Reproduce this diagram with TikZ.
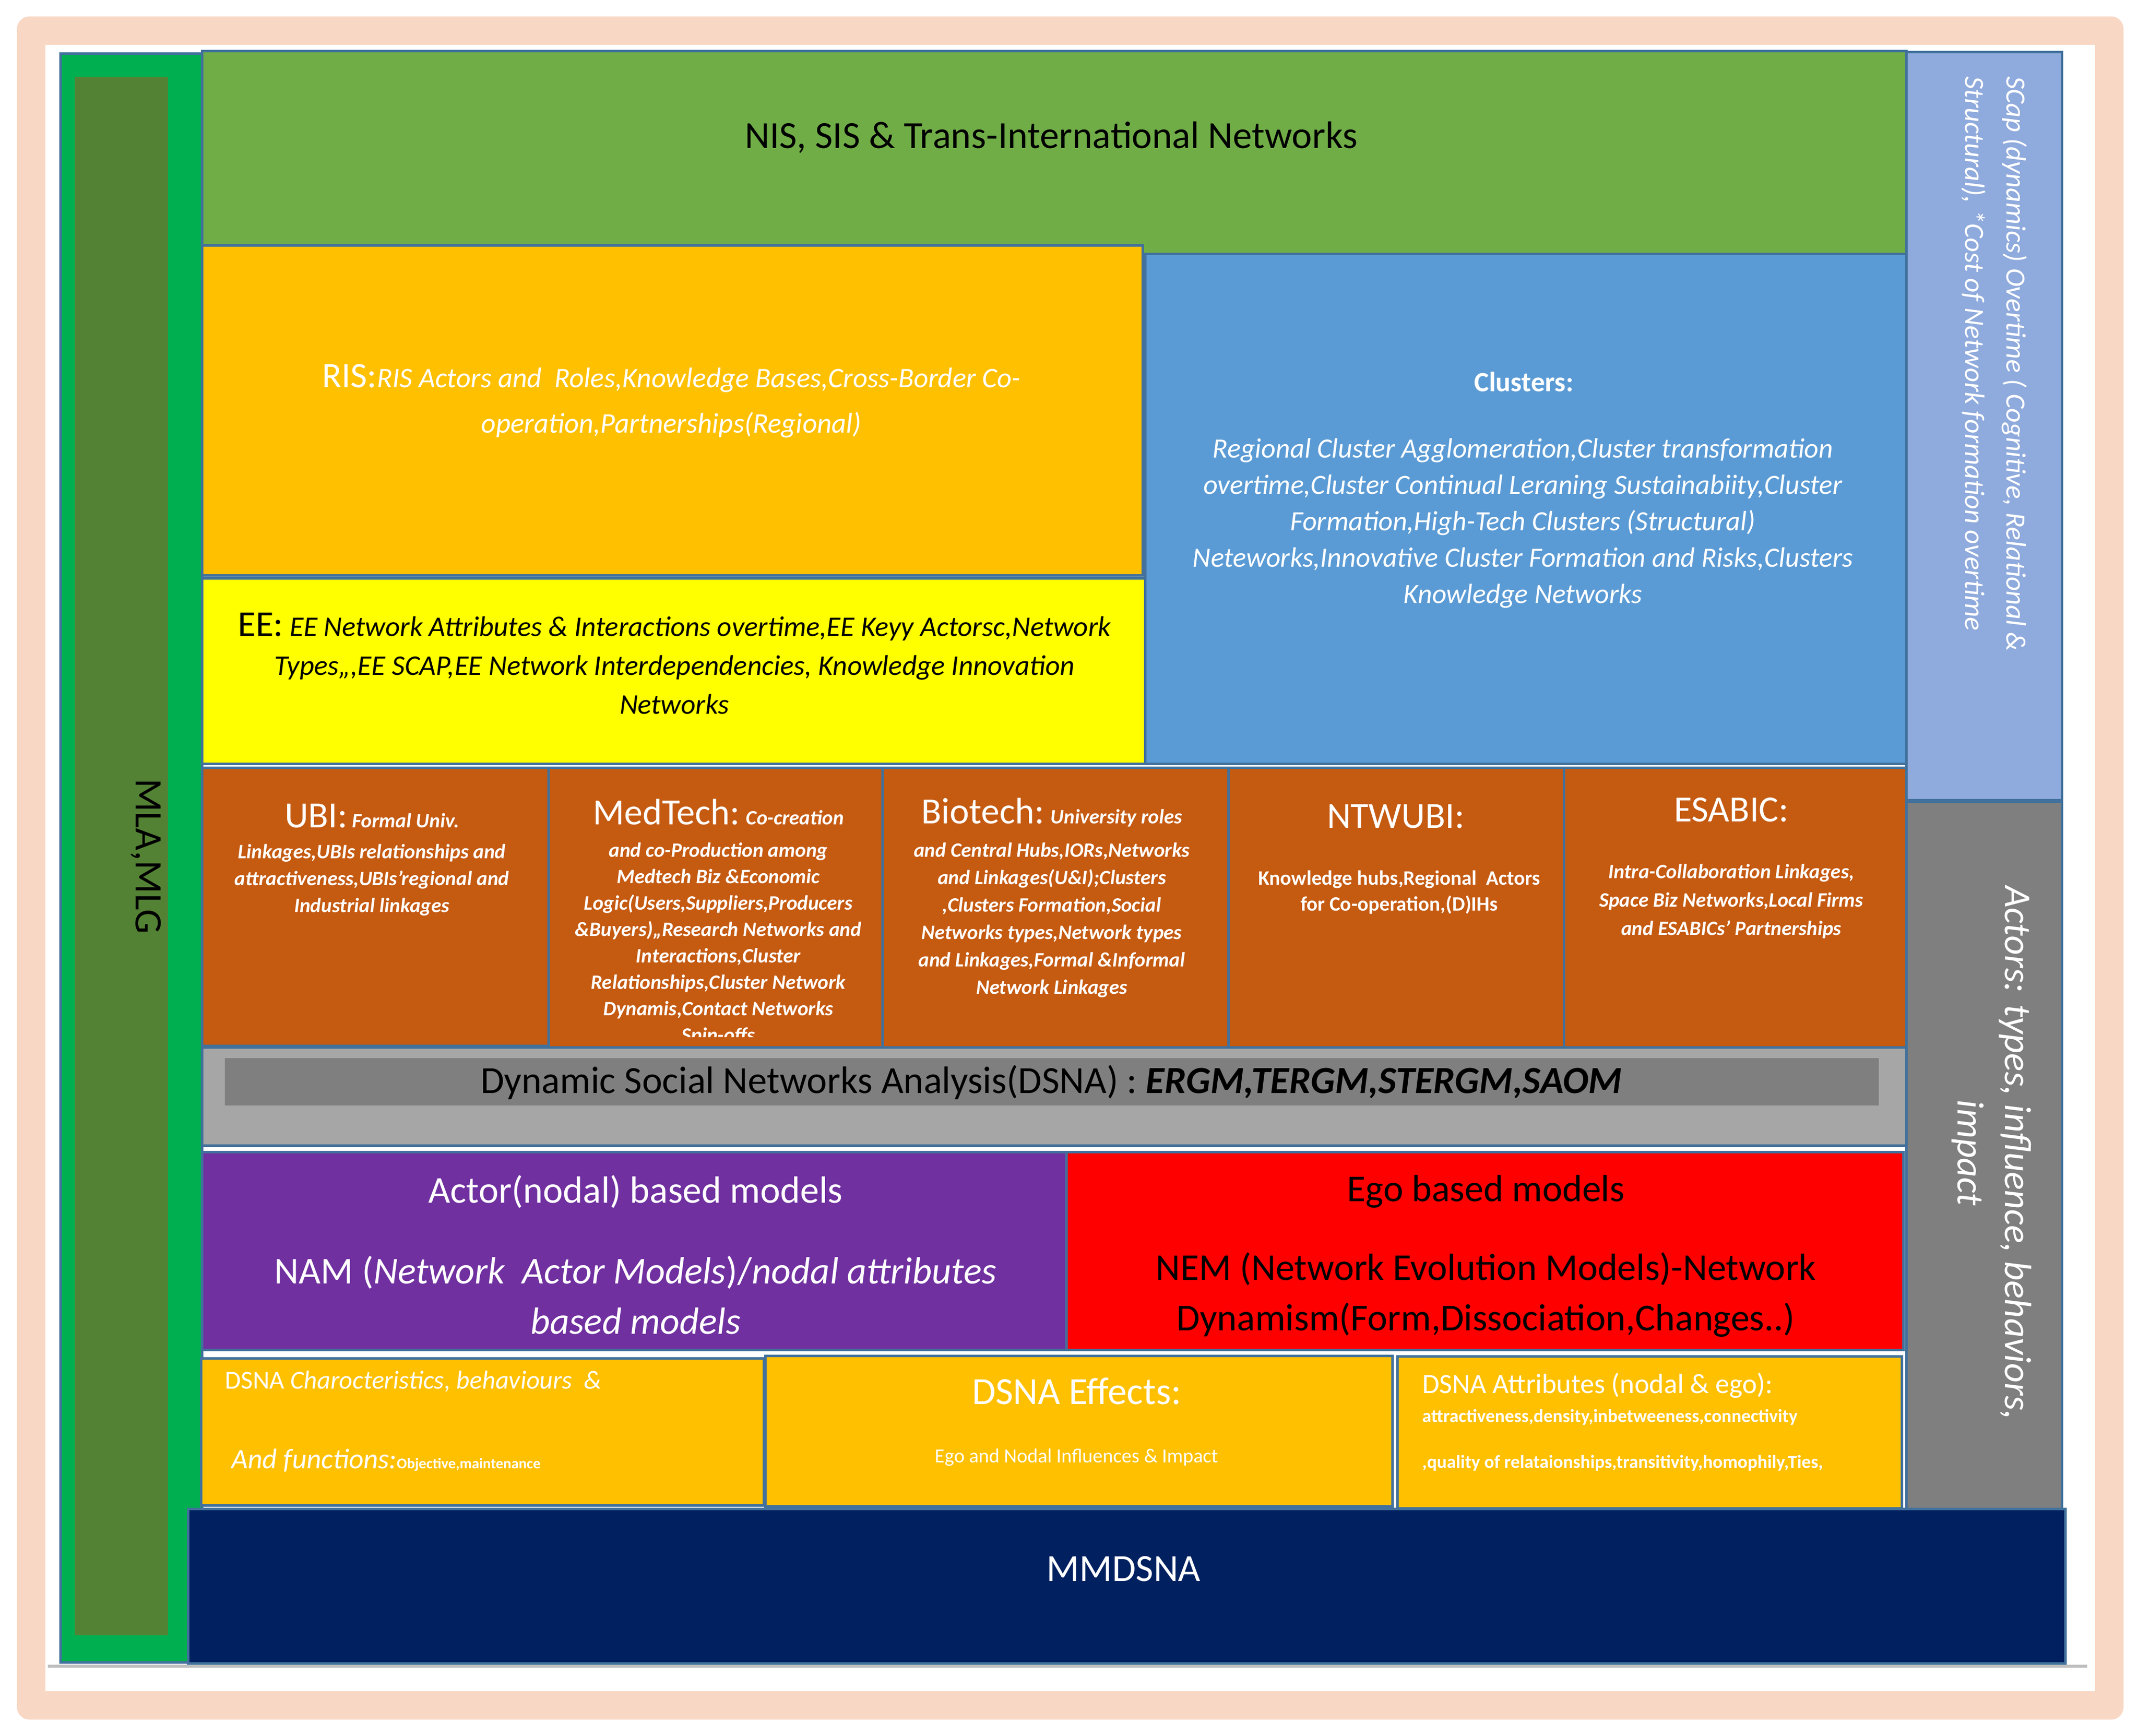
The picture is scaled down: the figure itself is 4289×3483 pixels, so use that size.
\documentclass[tikz,border=0pt]{standalone}
\usepackage{fontspec}
\setmainfont{Carlito}
\newcommand\FS[2]{\fontsize{#1}{#2}\selectfont}
\definecolor{peach}{HTML}{F8D8C4}
\definecolor{bord}{HTML}{41719C}
\definecolor{mgreen}{HTML}{00B050}
\definecolor{dgreen}{HTML}{548235}
\definecolor{nisg}{HTML}{70AD47}
\definecolor{gold}{HTML}{FFC000}
\definecolor{clblue}{HTML}{5B9BD5}
\definecolor{eeyel}{HTML}{FFFF00}
\definecolor{rust}{HTML}{C55A11}
\definecolor{lgray}{HTML}{A6A6A6}
\definecolor{mgray}{HTML}{7F7F7F}
\definecolor{purp}{HTML}{7030A0}
\definecolor{navy}{HTML}{002060}
\definecolor{scapb}{HTML}{8FAADC}
\definecolor{lineg}{HTML}{BFBFBF}
\begin{document}
\begin{tikzpicture}[x=1pt,y=-1pt,
  box/.style={draw=bord, line width=5pt},
  txt/.style={inner sep=0pt, align=center},
  wtxt/.style={txt, text=white},
  btxt/.style={txt, text=black}]
\useasboundingbox (0,0) rectangle (4289,3483);
% frame
\fill[peach, rounded corners=25pt] (34,33) rectangle (4260,3450);
\fill[white] (91,90) rectangle (4203,3393);
\fill[lineg] (96,3340) rectangle (4187,3346);
% left column
\path[box, fill=mgreen] (121,107) rectangle (405,3335);
\fill[dgreen] (150,154) rectangle (337,3281);
% top
\path[box, fill=nisg] (405,102) rectangle (3824,509);
\path[box, fill=scapb] (3824,104) rectangle (4136,1605);
\path[box, fill=clblue] (2297,509) rectangle (3824,1532);
\path[box, fill=gold] (405,492) rectangle (2292,1154);
\path[box, fill=eeyel] (405,1160) rectangle (2297,1532);
% orange row
\path[box, fill=rust] (405,1540) rectangle (1100,2098);
\path[box, fill=rust] (1100,1540) rectangle (1770,2106);
\path[box, fill=rust] (1770,1540) rectangle (2464,2101);
\path[box, fill=rust] (2464,1540) rectangle (3137,2101);
\path[box, fill=rust] (3137,1540) rectangle (3824,2110);
% texts of orange row (before DSNA row)
\node[wtxt, font=\FS{41}{54}\bfseries\itshape] (ubi) at (746,1725)
  {{\FS{74}{54}\mdseries\upshape UBI:} Formal Univ.\\[8pt]
   Linkages,UBIs relationships and\\attractiveness,UBIs'regional and\\Industrial linkages};
\begin{scope}
\clip (1100,1540) rectangle (1770,2080);
\node[wtxt, font=\FS{41}{53}\bfseries\itshape] (med) at (1441,1850)
  {{\FS{74}{53}\mdseries\upshape MedTech:} Co-creation\\[12pt]
   and co-Production among\\Medtech Biz \&Economic\\Logic(Users,Suppliers,Producers\\
   \&Buyers),,Research Networks and\\Interactions,Cluster\\Relationships,Cluster Network\\
   Dynamis,Contact Networks\\Spin-offs};
\end{scope}
\node[wtxt, font=\FS{41}{55}\bfseries\itshape] (bio) at (2110,1801)
  {{\FS{74}{55}\mdseries\upshape Biotech:} University roles\\[12pt]
   and Central Hubs,IORs,Networks\\and Linkages(U\&I);Clusters\\,Clusters Formation,Social\\
   Networks types,Network types\\and Linkages,Formal \&Informal\\Network Linkages};
\node[wtxt, font=\FS{74}{80}] (ntt) at (2800,1638) {NTWUBI:};
\node[wtxt, font=\FS{41}{52}\bfseries] (ntb) at (2807,1790)
  {Knowledge hubs,Regional\ \ Actors\\for Co-operation,(D)IHs};
\node[wtxt, font=\FS{74}{80}] (est) at (3473,1625) {ESABIC:};
\node[wtxt, font=\FS{41}{57}\bfseries\itshape] (esb) at (3473,1808)
  {Intra-Collaboration Linkages,\\Space Biz Networks,Local Firms\\and ESABICs' Partnerships};
% DSNA row
\path[box, fill=lgray] (405,2101) rectangle (3824,2298);
\fill[mgray] (451,2123) rectangle (3769,2218);
\node[btxt, font=\FS{77}{80}] (dsna) at (2109,2172)
  {Dynamic Social Networks Analysis(DSNA) : \textbf{\textit{ERGM,TERGM,STERGM,SAOM}}};
% models
\path[box, fill=purp] (405,2311) rectangle (2139,2708);
\path[box, fill=red] (2139,2311) rectangle (3818,2708);
% bottom row
\path[box, fill=gold] (403,2725) rectangle (1532,3020);
\path[box, fill=gold] (1535,2720) rectangle (2793,3022);
\path[box, fill=gold] (2803,2721) rectangle (3815,3026);
% right gray
\path[box, fill=mgray] (3824,1608) rectangle (4136,3027);
% MMDSNA
\path[box, fill=navy] (377,3027) rectangle (4143,3337);

% texts
\node[btxt, font=\FS{78}{80}, rotate=-90] (mla) at (293,1718) {MLA,MLG};
\node[btxt, font=\FS{77}{80}] (nis) at (2109,276) {NIS, SIS \& Trans-International Networks};
\node[wtxt, font=\FS{57}{91}\itshape] (ris) at (1347,805)
  {{\FS{72}{91}\upshape RIS:}RIS Actors and\ \ Roles,Knowledge Bases,Cross-Border Co-\\
   operation,Partnerships(Regional)};
\node[wtxt, font=\FS{56}{60}\bfseries] (clh) at (3057,766) {Clusters:};
\node[wtxt, font=\FS{56}{73}\itshape] (clb) at (3055,1050)
  {Regional Cluster Agglomeration,Cluster transformation\\
   overtime,Cluster Continual Leraning Sustainabiity,Cluster\\
   Formation,High-Tech Clusters (Structural)\\
   Neteworks,Innovative Cluster Formation and Risks,Clusters\\
   Knowledge Networks};
\node[btxt, font=\FS{57}{78}\itshape] (ee) at (1353,1331)
  {{\FS{73}{78}\upshape EE:} EE Network Attributes \& Interactions overtime,EE Keyy Actorsc,Network\\
   Types,,,EE SCAP,EE Network Interdependencies, Knowledge Innovation\\Networks};
\node[wtxt, font=\FS{76}{80}] (actt) at (1275,2391) {Actor(nodal) based models};
\node[wtxt, font=\FS{76}{101}] (actb) at (1275,2598)
  {NAM (\textit{Network\ \ Actor Models})/\textit{nodal attributes}\\\textit{based models}};
\node[btxt, font=\FS{76}{80}] (egot) at (2981,2391) {Ego based models};
\node[btxt, font=\FS{76}{101}] (egob) at (2981,2598)
  {NEM (Network Evolution Models)-Network\\Dynamism(Form,Dissociation,Changes..)};
\node[wtxt, font=\FS{52}{60}, anchor=west] (b1a) at (451,2772)
  {DSNA \textit{Charocteristics, behaviours\ \ \&}};
\node[wtxt, font=\FS{57}{60}\itshape, anchor=west] (b1b) at (464,2930)
  {And functions:{\FS{30}{40}\bfseries\upshape Objective,maintenance}};
\node[wtxt, font=\FS{77}{80}] (b2a) at (2160,2791) {DSNA Effects:};
\node[wtxt, font=\FS{40}{44}] (b2b) at (2160,2924) {Ego and Nodal Influences \& Impact};
\node[wtxt, font=\FS{56}{60}, anchor=west] (b3a) at (2853,2780) {DSNA Attributes (nodal \& ego):};
\node[wtxt, font=\FS{37}{40}\bfseries, anchor=west] (b3b) at (2853,2843)
  {attractiveness,density,inbetweeness,connectivity};
\node[wtxt, font=\FS{37}{40}\bfseries, anchor=west] (b3c) at (2853,2935)
  {,quality of relataionships,transitivity,homophily,Ties,};
\node[wtxt, align=left, font=\FS{56}{83}\itshape, rotate=-90, anchor=west] (scap) at (4001,153)
  {SCap (dynamics) Overtime ( Cognitive, Relational \&\\Structural), *Cost of Network formation overtime};
\node[wtxt, font=\FS{76}{95}\itshape, rotate=-90] (actors) at (3995,2313)
  {Actors: types, influence, behaviors,\\impact};
\node[wtxt, font=\FS{77}{80}] (mmd) at (2254,3148) {MMDSNA};
\end{tikzpicture}
\end{document}
